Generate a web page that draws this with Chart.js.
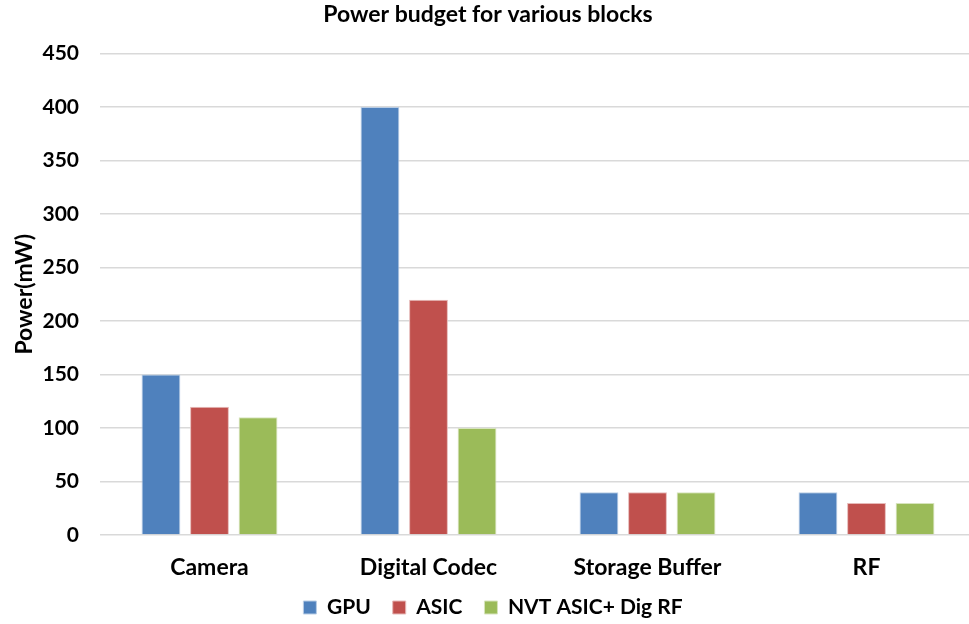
<!DOCTYPE html>
<html><head><meta charset="utf-8">
<script src="https://cdn.jsdelivr.net/npm/chart.js@4"></script>
<style>html,body{margin:0;padding:0;background:#fff}#wrap{width:969px;height:624px}</style>
</head><body><div id="wrap"><canvas id="c" width="969" height="624"></canvas></div>
<script>
const categories = ["Camera", "Digital Codec", "Storage Buffer", "RF"];
const gpu = [150, 400, 40, 40];
const asic = [120, 220, 40, 30];
const nvt = [110, 100, 40, 30];
const seriesNames = ["GPU", "ASIC", "NVT ASIC+ Dig RF"];
const yTicks = [0, 50, 100, 150, 200, 250, 300, 350, 400, 450];

const FONT = "Lato, 'Open Sans', sans-serif";
const colors = ["#4F81BD", "#C0504D", "#9BBB59"];
const borders = ["#B9CDE5", "#E6B9B8", "#D7E4BD"];
const mk = (i, d) => ({label: seriesNames[i], data: d, backgroundColor: colors[i], borderColor: borders[i], borderWidth: 1, barPercentage: 0.8, categoryPercentage: 0.665});

// let the x tick labels extend past the compact x-axis box without being clipped,
// and let the category axis run slightly past the right edge (as in the original plot area)
const adjustX = {id: 'adjustX', afterLayout(chart) {
  const x = chart.scales.x;
  x.bottom += 30;
  x.right = 976; x.width = x.right - x.left;
  x.configure();
  if (chart.legend) { chart.legend.left += 5; chart.legend.right += 5; chart.legend.top += 4; chart.legend.bottom += 4; }
}};

new Chart(document.getElementById('c'), {
  type: 'bar',
  data: {labels: categories, datasets: [mk(0, gpu), mk(1, asic), mk(2, nvt)]},
  plugins: [adjustX],
  options: {
    responsive: false, animation: false, devicePixelRatio: 1,
    layout: {padding: {left: 0, right: -7, top: 0, bottom: 0}},
    plugins: {
      title: {display: true, text: "Power budget for various blocks", color: "#000", font: {family: FONT, size: 23, weight: 'bold'}, padding: {top: 1, bottom: 25}},
      legend: {position: 'bottom', labels: {color: "#000", font: {family: FONT, size: 21, weight: 'bold'}, boxWidth: 13, boxHeight: 13, padding: 22}},
      tooltip: {enabled: false}
    },
    scales: {
      x: {grid: {display: false}, border: {display: false}, ticks: {color: "#000", font: {family: FONT, size: 23, weight: 'bold'}, padding: 11},
          afterFit: s => { s.height = 36; }},
      y: {min: 0, max: 450, afterBuildTicks: s => { s.ticks = yTicks.map(v => ({value: v})); },
          grid: {color: "#D9D9D9", lineWidth: 1.5, drawTicks: false}, border: {display: false},
          ticks: {color: "#000", font: {family: FONT, size: 21, weight: 'bold'}, padding: 21},
          title: {display: true, text: "Power(mW)", color: "#000", font: {family: FONT, size: 23, weight: 'bold'}, padding: 11},
          afterFit: s => { s.width = 100; }}
    }
  }
});
</script></body></html>
